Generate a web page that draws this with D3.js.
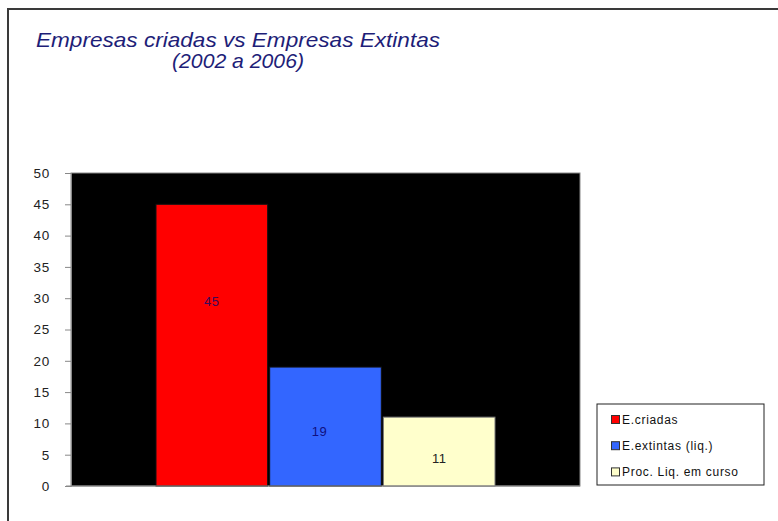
<!DOCTYPE html>
<html>
<head>
<meta charset="utf-8">
<script src="https://cdn.jsdelivr.net/npm/d3@7/dist/d3.min.js"></script>
<style>
  html, body { margin: 0; padding: 0; background: #fff; }
  svg { display: block; }
</style>
</head>
<body>
<svg id="chart" width="778" height="521"></svg>
<script>
// ---- data ----
const categories = ["E.criadas", "E.extintas (liq.)", "Proc. Liq. em curso"];
const values = [45, 19, 11];
const labelAt = [29.4, 8.7, 4.4];          // where Excel placed each data label (value units)
const colors = ["#ff0000", "#3366ff", "#ffffcc"];
const labelColors = ["#3a0a5a", "#101080", "#222222"];
const yTicks = [0, 5, 10, 15, 20, 25, 30, 35, 40, 45, 50];
const titleLines = ["Empresas criadas  vs Empresas  Extintas", "(2002 a 2006)"];

// ---- layout ----
const svg = d3.select("#chart");
const plot = { left: 71, right: 580, top: 173, bottom: 486 };
const inset = 85;
const titleWidths = [404, 132];

// outer frame
svg.append("rect")
  .attr("x", 8).attr("y", 9).attr("width", 790).attr("height", 540)
  .attr("fill", "#fff").attr("stroke", "#3a3a3a").attr("stroke-width", 2);

// title
const title = svg.append("g").attr("fill", "#1e1e78")
  .attr("font-family", "Arial, 'Liberation Sans', sans-serif")
  .attr("font-style", "italic").attr("font-size", 21).attr("text-anchor", "middle");
title.selectAll("text").data(titleLines).join("text")
  .attr("x", 238).attr("y", (d, i) => 47 + i * 21)
  .attr("textLength", (d, i) => titleWidths[i])
  .attr("lengthAdjust", "spacingAndGlyphs")
  .text(d => d);

// scales
const y = d3.scaleLinear().domain([0, 50]).range([plot.bottom, plot.top]);
const x = d3.scaleBand().domain(categories)
  .range([plot.left + inset, plot.right - inset])
  .paddingInner(0.018).paddingOuter(0);

// plot background
svg.append("rect")
  .attr("x", plot.left).attr("y", plot.top)
  .attr("width", plot.right - plot.left).attr("height", plot.bottom - plot.top)
  .attr("fill", "#000").attr("stroke", "#888").attr("stroke-width", 1);

// bars
svg.append("g").selectAll("rect").data(values).join("rect")
  .attr("x", (d, i) => x(categories[i]))
  .attr("y", d => y(d))
  .attr("width", x.bandwidth())
  .attr("height", d => y(0) - y(d))
  .attr("fill", (d, i) => colors[i])
  .attr("stroke", (d, i) => i === 2 ? "#777" : "#111")
  .attr("stroke-width", 1);

// data labels
svg.append("g")
  .attr("font-family", "Arial, 'Liberation Sans', sans-serif")
  .attr("font-size", 13).attr("text-anchor", "middle")
  .selectAll("text").data(values).join("text")
  .attr("x", (d, i) => x(categories[i]) + x.bandwidth() / 2 - (i === 1 ? 6 : 0))
  .attr("y", (d, i) => y(labelAt[i]) + 4.5)
  .attr("fill", (d, i) => labelColors[i])
  .attr("letter-spacing", 0.5)
  .text(d => d);

// y axis
const yAxis = d3.axisLeft(y).tickValues(yTicks).tickSize(6).tickPadding(15);
const ga = svg.append("g").attr("transform", `translate(${plot.left},0)`).call(yAxis);
ga.select(".domain").attr("stroke", "#888");
ga.selectAll(".tick line").attr("stroke", "#888");
ga.selectAll(".tick text")
  .attr("font-family", "Arial, 'Liberation Sans', sans-serif")
  .attr("font-size", 13.5).attr("fill", "#222").attr("letter-spacing", 0.7);

// x axis baseline
svg.append("line")
  .attr("x1", plot.left - 5).attr("x2", plot.right)
  .attr("y1", y(0)).attr("y2", y(0))
  .attr("stroke", "#888").attr("stroke-width", 1);

// legend
const lg = svg.append("g");
lg.append("rect")
  .attr("x", 597).attr("y", 404).attr("width", 167).attr("height", 81)
  .attr("fill", "#fff").attr("stroke", "#222").attr("stroke-width", 1);
const items = lg.selectAll("g.item").data(categories).join("g").attr("class", "item")
  .attr("transform", (d, i) => `translate(611, ${419.5 + i * 26.2})`);
items.append("rect")
  .attr("x", 0.5).attr("y", -4).attr("width", 8).attr("height", 8)
  .attr("fill", (d, i) => colors[i]).attr("stroke", "#333").attr("stroke-width", 1);
items.append("text")
  .attr("x", 11).attr("y", 4.5)
  .attr("font-family", "Arial, 'Liberation Sans', sans-serif")
  .attr("font-size", 12).attr("fill", "#111").attr("letter-spacing", 0.7)
  .text(d => d);
</script>
</body>
</html>
